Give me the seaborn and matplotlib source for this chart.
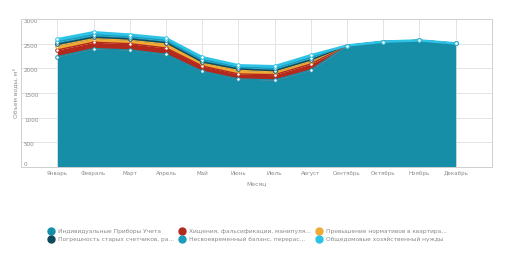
import numpy as np
import pandas as pd
import matplotlib
matplotlib.use('Agg')
import matplotlib.pyplot as plt
import seaborn as sns
from matplotlib.lines import Line2D
from matplotlib import font_manager

# Данные
months = ['Январь', 'Февраль', 'Март', 'Апрель', 'Май', 'Июнь', 'Июль',
          'Август', 'Сентябрь', 'Октябрь', 'Ноябрь', 'Декабрь']
individual = [2236, 2398, 2372, 2284, 1940, 1784, 1763, 1966, 2460, 2540, 2565, 2505]
theft = [136, 130, 127, 128, 107, 101, 108, 122, 0, 0, 0, 0]
excess = [85, 75, 70, 80, 58, 75, 58, 58, 0, 0, 0, 0]
old_meters = [30, 26, 26, 28, 23, 26, 23, 23, 0, 0, 0, 0]
late_balance = [50, 50, 43, 44, 48, 37, 44, 47, 0, 0, 0, 0]
common_needs = [52, 51, 44, 45, 48, 38, 45, 48, 0, 0, 0, 0]

names = ['Индивидуальные Приборы Учета', 'Хищения, фальсификации, манипуля...',
         'Превышение нормативов в квартира...', 'Погрешность старых счетчиков, ра...',
         'Несвоевременный баланс, перерас...', 'Общедомовые хозяйственный нужды']
colors = ['#168ea8', '#b3291d', '#f0aa35', '#0f4a5c', '#1b9bbb', '#2ec3e6']
series = [individual, theft, excess, old_meters, late_balance, common_needs]

df = pd.DataFrame(dict(zip(names, series)))
df['idx'] = np.arange(len(months))

sns.set_theme(style='white')

# узкий шрифт, если есть
fam = 'DejaVu Sans'
for f in ['Liberation Sans Narrow', 'DejaVu Sans Condensed']:
    try:
        font_manager.findfont(f, fallback_to_default=False)
        fam = f
        break
    except ValueError:
        pass
plt.rcParams['font.family'] = [fam, 'DejaVu Sans']
narrow = fam != 'DejaVu Sans'
k = 1.0 if fam == 'Liberation Sans Narrow' else (0.9 if narrow else 0.8)

fig = plt.figure(figsize=(5.05, 2.63), dpi=100)
ax = fig.add_axes([0.042, 0.365, 0.932, 0.563])

# Накопленные области
lower = np.zeros(len(months))
for name, col in zip(names, colors):
    upper = lower + df[name].values
    ax.fill_between(df['idx'], lower, upper, color=col, lw=0, zorder=2)
    lower = upper

lower = np.zeros(len(months))
for i, (name, col) in enumerate(zip(names, colors)):
    upper = lower + df[name].values
    sns.lineplot(x=df['idx'], y=upper, ax=ax, color=col,
                 lw=1.8 if i == len(names) - 1 else 1.0, zorder=3)
    lower = upper

lower = np.zeros(len(months))
for name, col in zip(names, colors):
    upper = lower + df[name].values
    ax.plot(df['idx'], upper, ls='none', marker='o', ms=2.6, mfc='white',
            mec=col, mew=0.7, zorder=4)
    lower = upper

ax.set_xlim(-1, 12)
ax.set_ylim(0, 3000)
ax.set_xticks(range(12))
ax.set_xticklabels(months)
ax.set_yticks(range(0, 3001, 500))
ax.grid(True, color='#e4e4e4', lw=0.7)
ax.set_axisbelow(True)
for s in ax.spines.values():
    s.set_color('#d0d0d0')
    s.set_linewidth(0.7)

ax.tick_params(axis='x', length=0, pad=3, labelsize=5 * k, labelcolor='#8a8a8a')
ax.tick_params(axis='y', length=0, pad=-2, labelsize=5.2 * k, labelcolor='#8a8a8a')
ylabels = ax.get_yticklabels()
plt.setp(ylabels, ha='left', va='top')
ylabels[0].set_va('bottom')

ax.set_xlabel('Месяц', fontsize=5.5 * k, color='#8a8a8a', labelpad=4)
ax.set_ylabel('Объем воды, м³', fontsize=5.4 * k, color='#8a8a8a', labelpad=2)

# Легенда
order = [0, 3, 1, 4, 2, 5]
handles = [Line2D([], [], ls='none', marker='o', ms=5, color=colors[i]) for i in order]
labels = [names[i] for i in order]
fig.legend(handles, labels, loc='center', bbox_to_anchor=(0.49, 0.105), ncol=3,
           frameon=False, fontsize=5.3 * k, labelcolor='#8a8a8a', handletextpad=0.7,
           columnspacing=0.9, labelspacing=0.4, handlelength=1.0)

fig.savefig('out.png', dpi=100)
